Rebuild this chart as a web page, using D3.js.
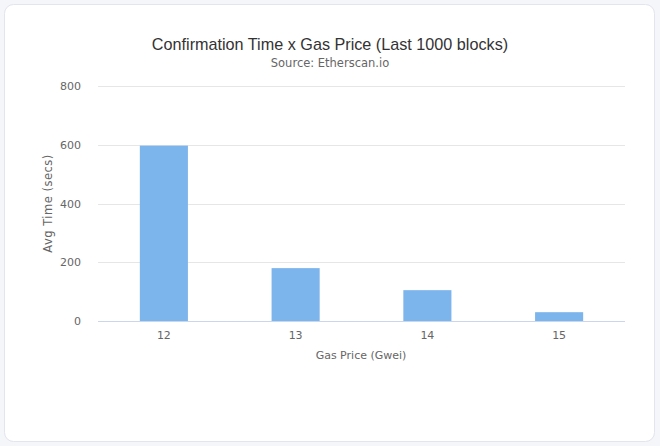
<!DOCTYPE html>
<html><head><meta charset="utf-8">
<script src="https://cdn.jsdelivr.net/npm/d3@7"></script>
<style>
html,body{margin:0;padding:0;background:#f4f6f9;}
svg{display:block;}
</style></head>
<body><svg id="c" width="660" height="446"></svg>
<script>
const categories = ["12", "13", "14", "15"];
const avgTime = [597, 180, 105, 30];
const yTicks = [0, 200, 400, 600, 800];
const titleText = "Confirmation Time x Gas Price (Last 1000 blocks)";
const subtitleText = "Source: Etherscan.io";
const xTitle = "Gas Price (Gwei)";
const yTitle = "Avg Time (secs)";

const svg = d3.select("#c");
svg.append("rect").attr("x", 4.5).attr("y", 4.5).attr("width", 650).attr("height", 437)
  .attr("rx", 9).attr("fill", "#ffffff").attr("stroke", "#e2e4ef").attr("stroke-width", 1);

const pL = 98, pR = 625, pT = 86, pB = 321;
const x = d3.scaleBand().domain(categories).range([pL, pR]).paddingInner(0).paddingOuter(0);
const y = d3.scaleLinear().domain([0, 800]).range([pB, pT]);

const g = svg.append("g");
// grid
const yAxis = d3.axisLeft(y).tickValues(yTicks).tickSize(-(pR - pL)).tickPadding(12).tickFormat(d3.format("d"));
const ya = g.append("g").attr("transform", `translate(${pL},0)`).call(yAxis);
ya.select(".domain").remove();
ya.selectAll(".tick line").attr("stroke", "#e6e6e6").attr("shape-rendering", "crispEdges");
ya.selectAll(".tick text").attr("fill", "#666666").attr("font-family", "'DejaVu Sans', sans-serif").attr("font-size", "11px").attr("x", -17);

// bars
const bw = x.bandwidth() * 0.365;
g.selectAll("rect.bar").data(avgTime).enter().append("rect").attr("class", "bar")
  .attr("x", (d, i) => x(categories[i]) + x.bandwidth() / 2 - bw / 2)
  .attr("y", d => y(d))
  .attr("width", bw)
  .attr("height", d => y(0) - y(d))
  .attr("fill", "#7cb5ec");

// x axis
const xAxis = d3.axisBottom(x).tickSize(0).tickPadding(10);
const xa = g.append("g").attr("transform", `translate(0,${pB})`).call(xAxis);
xa.select(".domain").attr("stroke", "#ccd6eb").attr("d", `M${pL},0.5H${pR}`);
xa.selectAll(".tick text").attr("fill", "#666666").attr("font-family", "'DejaVu Sans', sans-serif").attr("font-size", "11px");

// titles
svg.append("text").attr("x", 330).attr("y", 50).attr("text-anchor", "middle")
  .attr("font-family", "'Liberation Sans', Arial, sans-serif").attr("font-size", "16.2px").attr("fill", "#333333").text(titleText);
svg.append("text").attr("x", 330).attr("y", 67).attr("text-anchor", "middle")
  .attr("font-family", "'DejaVu Sans', sans-serif").attr("font-size", "11.5px").attr("fill", "#666666").text(subtitleText);
svg.append("text").attr("x", 361).attr("y", 359).attr("text-anchor", "middle")
  .attr("font-family", "'DejaVu Sans', sans-serif").attr("font-size", "11px").attr("fill", "#666666").text(xTitle);
svg.append("text").attr("transform", `translate(52,${(pT + pB) / 2}) rotate(-90)`).attr("text-anchor", "middle")
  .attr("font-family", "'DejaVu Sans', sans-serif").attr("font-size", "11.5px").attr("letter-spacing", "0.5px").attr("fill", "#666666").text(yTitle);
</script>
</body></html>
